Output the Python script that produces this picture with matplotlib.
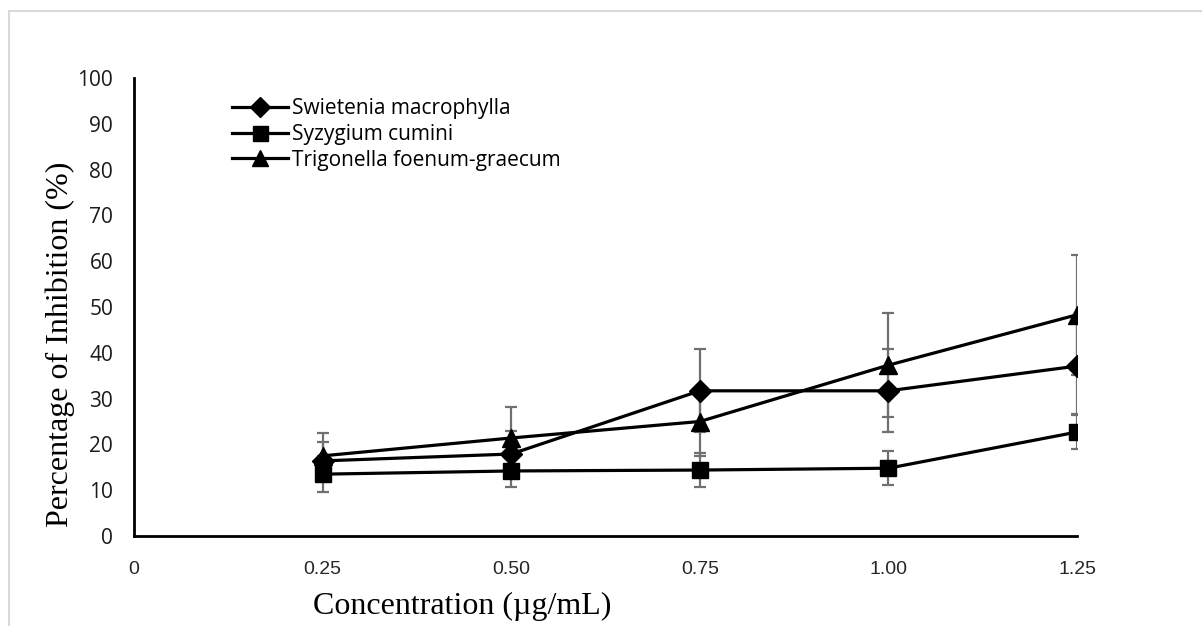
import matplotlib
matplotlib.use("Agg")
import matplotlib.pyplot as plt
from matplotlib.lines import Line2D
from matplotlib.patches import Rectangle

# ---- data ----
concentration = [0.25, 0.50, 0.75, 1.00, 1.25]
swietenia = [16.4, 17.9, 31.7, 31.7, 37.1]
swietenia_err = [4.1, 5.0, 9.1, 9.1, 10.5]
syzygium = [13.5, 14.2, 14.4, 14.8, 22.7]
syzygium_err = [3.9, 3.5, 3.7, 3.7, 3.8]
trigonella = [17.5, 21.4, 25.0, 37.3, 48.3]
trigonella_err = [5.0, 6.8, 7.5, 11.3, 13.1]
series_names = ["Swietenia macrophylla", "Syzygium cumini", "Trigonella foenum-graecum"]
x_ticks = [0, 0.25, 0.50, 0.75, 1.00, 1.25]
x_tick_labels = ["0", "0.25", "0.50", "0.75", "1.00", "1.25"]
y_ticks = list(range(0, 101, 10))

W, H = 1202, 626
fig = plt.figure(figsize=(W / 100, H / 100), dpi=100)
fig.patch.set_facecolor("white")

# light border frame
fig.patches.append(Rectangle((9 / W, -0.05), 1.2, (H - 11) / H + 0.05,
                             transform=fig.transFigure, fill=False,
                             edgecolor="#d9d9d9", linewidth=1.5))

ax = fig.add_axes([134 / W, 1 - 536 / H, (1077 - 134) / W, (536 - 78) / H])

series = [
    (swietenia, swietenia_err, "D", 11),
    (syzygium, syzygium_err, "s", 12),
    (trigonella, trigonella_err, "^", 13),
]
handles = []
for (vals, errs, mk, ms), name in zip(series, series_names):
    ax.errorbar(concentration, vals, yerr=errs, fmt="none", ecolor="#707070",
                elinewidth=1.6, capsize=4, capthick=1.6, zorder=2)
    ax.plot(concentration, vals, color="black", lw=2.3, marker=mk,
            markersize=ms, markerfacecolor="black", markeredgecolor="black",
            zorder=3, label=name)
    handles.append(Line2D([], [], color="black", lw=2.3, marker=mk,
                          markersize=ms * 0.9, markerfacecolor="black",
                          markeredgecolor="black"))

ax.set_xlim(0, 1.25)
ax.set_ylim(0, 100)
ax.set_xticks(x_ticks)
ax.set_xticklabels(x_tick_labels, family=["Liberation Sans Narrow", "Liberation Sans"],
                   fontsize=14, color="#262626")
ax.set_yticks(y_ticks)
ax.set_yticklabels([str(v) for v in y_ticks], family=["Open Sans", "DejaVu Sans"],
                   fontsize=15, color="#1a1a1a")
ax.tick_params(axis="x", length=0, pad=18)
ax.tick_params(axis="y", length=0, pad=15)
for s in ["top", "right"]:
    ax.spines[s].set_visible(False)
for s in ["left", "bottom"]:
    ax.spines[s].set_linewidth(2.0)
    ax.spines[s].set_color("black")

fig.legend(handles, series_names, loc="upper left",
           bbox_to_anchor=(222 / W, 1 - 88 / H), bbox_transform=fig.transFigure,
           frameon=False, borderpad=0, handlelength=2.65, handletextpad=0.2,
           labelspacing=0.22, prop={"family": ["Open Sans", "DejaVu Sans"], "size": 15})

fig.text(60 / W, 1 - 344 / H, "Percentage of Inhibition (%)", rotation=90,
         ha="center", va="center", family=["Liberation Serif", "DejaVu Serif"],
         fontsize=23)
fig.text(462 / W, 1 - 606 / H, "Concentration (µg/mL)", ha="center", va="center",
         family=["Liberation Serif", "DejaVu Serif"], fontsize=23)

fig.savefig("out.png", dpi=100)
